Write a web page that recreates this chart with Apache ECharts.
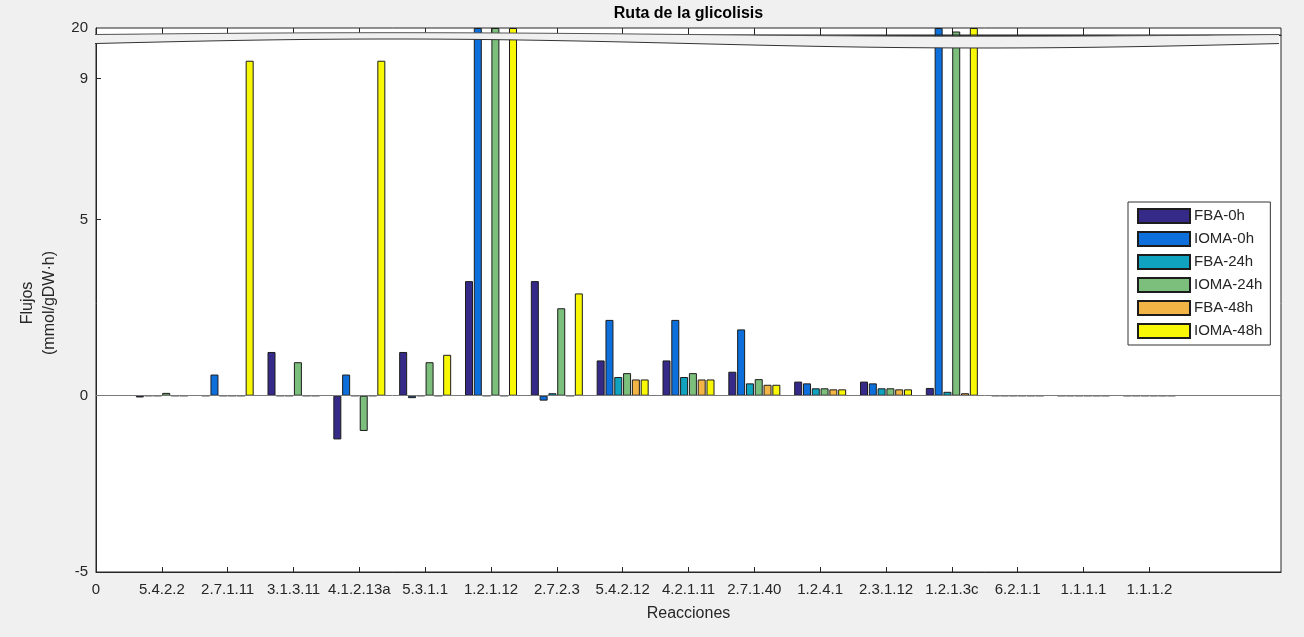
<!DOCTYPE html>
<html>
<head>
<meta charset="utf-8">
<title>Ruta de la glicolisis</title>
<script src="https://cdn.jsdelivr.net/npm/echarts@6.0.0/dist/echarts.min.js"></script>
<style>
  html, body { margin: 0; padding: 0; background: #f0f0f0; }
  #chart { width: 1304px; height: 637px; }
</style>
</head>
<body>
<div id="chart"></div>
<script>
// Reactions of the glycolysis pathway (x positions 1..16, position 0 is labelled "0")
const reactions = ['5.4.2.2', '2.7.1.11', '3.1.3.11', '4.1.2.13a', '5.3.1.1', '1.2.1.12', '2.7.2.3',
  '5.4.2.12', '4.2.1.11', '2.7.1.40', '1.2.4.1', '2.3.1.12', '1.2.1.3c', '6.2.1.1', '1.1.1.1', '1.1.1.2'];
const xTickLabels = ['0'].concat(reactions);

// Fluxes (mmol/gDW·h) per condition
const seriesNames = ['FBA-0h', 'IOMA-0h', 'FBA-24h', 'IOMA-24h', 'FBA-48h', 'IOMA-48h'];
const fba0h   = [-0.05, 0,    1.24, -1.24, 1.24,  3.25, 3.25,  1.00, 1.00, 0.68, 0.40, 0.40, 0.22, 0, 0, 0];
const ioma0h  = [0,     0.60, 0,     0.60, -0.07, 20,   -0.14, 2.15, 2.15, 1.88, 0.35, 0.35, 20,   0, 0, 0];
const fba24h  = [0,     0,    0,     0,    0,     0,    0.07,  0.53, 0.53, 0.35, 0.21, 0.21, 0.11, 0, 0, 0];
const ioma24h = [0.08,  0,    0.95, -1.00, 0.95,  20,   2.48,  0.64, 0.64, 0.47, 0.21, 0.21, 19.8, 0, 0, 0];
const fba48h  = [0,     0,    0,     0,    0,     0,    0,     0.46, 0.46, 0.31, 0.18, 0.18, 0.07, 0, 0, 0];
const ioma48h = [0,     9.5,  0,     9.5,  1.16,  20,   2.90,  0.46, 0.46, 0.31, 0.18, 0.18, 20,   0, 0, 0];
const seriesValues = [fba0h, ioma0h, fba24h, ioma24h, fba48h, ioma48h];

// Y tick labels of the lower (main) panel and of the upper (broken) panel
const yTicksMain = [-5, 0, 5, 9];
const yTicksTop = [20];

const colors = ['#352A87', '#0D6FDB', '#10A3BF', '#7CBE7B', '#F2B545', '#F8F806'];

const FONT = '"Liberation Sans", Arial, Helvetica, sans-serif';
const TEXT = '#262626';

const chart = echarts.init(document.getElementById('chart'), null, { renderer: 'canvas' });

const PLOT_L = 96, PLOT_R = 1281;
const xTicks = xTickLabels.map((_, i) => i);

function makeSeries(gridIdx) {
  return seriesNames.map((name, s) => {
    const ser = {
      name: name,
      type: 'bar',
      xAxisIndex: gridIdx,
      yAxisIndex: gridIdx,
      data: seriesValues[s].map((v, i) => [i + 1, v]),
      barWidth: 8,
      barGap: '10%',
      clip: true,
      itemStyle: { color: colors[s], borderColor: '#1c1c1c', borderWidth: 1 },
      emphasis: { disabled: true },
      silent: true
    };
    if (gridIdx === 0 && s === 0) {
      // zero baseline across the panel
      ser.markLine = {
        silent: true,
        symbol: 'none',
        label: { show: false },
        lineStyle: { color: '#7a7a7a', width: 1, type: 'solid' },
        data: [{ yAxis: 0 }]
      };
    }
    return ser;
  });
}

// Break band between the panels
const W = PLOT_R - PLOT_L;
const upperEdge = [], lowerEdge = [];
for (let x = PLOT_L - 1; x <= PLOT_R + 1; x += 8) {
  const t = Math.sin(2 * Math.PI * (x - PLOT_L) / W);
  upperEdge.push([x, 34.5 - 1.8 * t]);
  lowerEdge.push([x, 43.5 - 4.5 * t]);
}
const bandPoly = upperEdge.concat(lowerEdge.slice().reverse());

const option = {
  backgroundColor: '#f0f0f0',
  animation: false,
  textStyle: { fontFamily: FONT },
  grid: [
    { left: PLOT_L, right: 1304 - PLOT_R, top: 35, bottom: 65, show: true,
      backgroundColor: '#ffffff', borderColor: TEXT, borderWidth: 1, outerBoundsMode: 'none' },
    { left: PLOT_L, right: 1304 - PLOT_R, top: 28, height: 7, show: true,
      backgroundColor: '#ffffff', borderColor: TEXT, borderWidth: 1, outerBoundsMode: 'none' }
  ],
  xAxis: [
    {
      type: 'value', gridIndex: 0, min: 0, max: 18, interval: 1,
      axisLine: { show: true, onZero: false, lineStyle: { color: TEXT } },
      axisTick: { show: true, inside: true, length: 5, customValues: xTicks, lineStyle: { color: TEXT } },
      axisLabel: {
        show: true, customValues: xTicks, hideOverlap: false, margin: 10,
        fontSize: 15, color: TEXT, fontFamily: FONT,
        formatter: v => xTickLabels[Math.round(v)] || ''
      },
      splitLine: { show: false }
    },
    {
      type: 'value', gridIndex: 1, min: 0, max: 18, interval: 1,
      axisLine: { show: true, onZero: false, lineStyle: { color: TEXT } },
      axisTick: { show: true, inside: true, length: 7, customValues: xTicks.slice(1), lineStyle: { color: TEXT } },
      axisLabel: { show: false },
      splitLine: { show: false }
    }
  ],
  yAxis: [
    {
      type: 'value', gridIndex: 0, min: -5, max: 10.23,
      axisLine: { show: true, lineStyle: { color: TEXT } },
      axisTick: { show: true, inside: true, length: 5, customValues: yTicksMain, lineStyle: { color: TEXT } },
      axisLabel: { show: true, customValues: yTicksMain, fontSize: 15, color: TEXT, margin: 8, fontFamily: FONT },
      splitLine: { show: false }
    },
    {
      type: 'value', gridIndex: 1, min: 19.6, max: 20,
      axisLine: { show: true, lineStyle: { color: TEXT } },
      axisTick: { show: false },
      axisLabel: { show: true, customValues: yTicksTop, fontSize: 15, color: TEXT, margin: 8, fontFamily: FONT },
      splitLine: { show: false }
    }
  ],
  legend: {
    data: seriesNames,
    orient: 'vertical',
    left: 1128,
    top: 202,
    icon: 'rect',
    itemWidth: 52,
    itemHeight: 14,
    itemGap: 7,
    padding: [6, 8, 6, 9],
    backgroundColor: '#ffffff',
    borderColor: '#333333',
    borderWidth: 1,
    borderRadius: 0,
    selectedMode: false,
    textStyle: { fontSize: 15, color: TEXT, fontFamily: FONT, padding: [0, 0, 0, -1] }
  },
  series: makeSeries(0).concat(makeSeries(1)),
  graphic: [
    {
      type: 'polygon', zlevel: 1, z: 100, silent: true,
      shape: { points: bandPoly },
      style: { fill: '#f0f0f0', stroke: null }
    },
    {
      type: 'polyline', zlevel: 1, z: 101, silent: true,
      shape: { points: upperEdge },
      style: { stroke: '#555555', lineWidth: 1, fill: null }
    },
    {
      type: 'polyline', zlevel: 1, z: 101, silent: true,
      shape: { points: lowerEdge },
      style: { stroke: '#333333', lineWidth: 1, fill: null }
    },
    {
      type: 'text', zlevel: 1, z: 102, silent: true, x: (PLOT_L + PLOT_R) / 2, y: 14,
      style: { text: 'Ruta de la glicolisis', font: 'bold 16px ' + FONT, fill: '#000000',
               align: 'center', verticalAlign: 'middle' }
    },
    {
      type: 'text', zlevel: 1, z: 102, silent: true, x: (PLOT_L + PLOT_R) / 2, y: 614,
      style: { text: 'Reacciones', font: '16px ' + FONT, fill: TEXT,
               align: 'center', verticalAlign: 'middle' }
    },
    {
      type: 'text', zlevel: 1, z: 102, silent: true, x: 28, y: 303, rotation: Math.PI / 2,
      style: { text: 'Flujos', font: '16px ' + FONT, fill: TEXT,
               align: 'center', verticalAlign: 'middle' }
    },
    {
      type: 'text', zlevel: 1, z: 102, silent: true, x: 50, y: 303, rotation: Math.PI / 2,
      style: { text: '(mmol/gDW·h)', font: '16px ' + FONT, fill: TEXT,
               align: 'center', verticalAlign: 'middle' }
    }
  ]
};

chart.setOption(option);
</script>
</body>
</html>
